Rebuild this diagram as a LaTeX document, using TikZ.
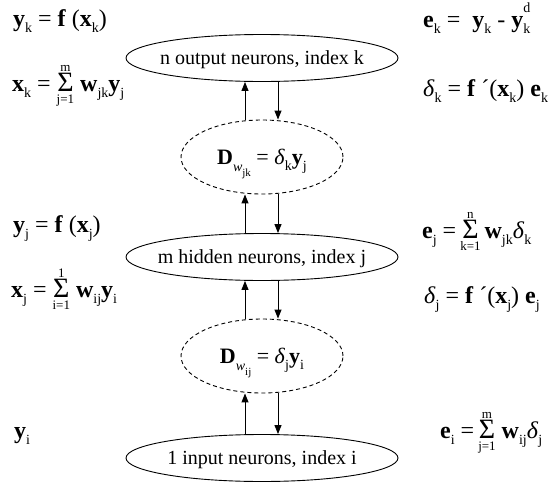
\documentclass[tikz,border=0pt]{standalone}
\usepackage{fontspec}
\setmainfont{Liberation Serif}
\usetikzlibrary{shapes.geometric,arrows.meta}
\newcommand\B[1]{\textbf{#1}}
\newcommand\sbs[1]{\raisebox{-.27em}{\fontsize{14}{14}\selectfont #1}}
\newcommand\sbsup[2]{\rlap{\raisebox{.6em}{\fontsize{14}{14}\selectfont #2}}\raisebox{-.27em}{\fontsize{14}{14}\selectfont #1}}
\newcommand\dl{\textit{δ}}
\newlength\smw
\newcommand\Sm[2]{\begingroup
  \setbox0=\hbox{\fontsize{28}{28}\selectfont Σ}%
  \setbox2=\hbox{\fontsize{13}{13}\selectfont #1}%
  \setbox4=\hbox{\fontsize{13}{13}\selectfont #2}%
  \setlength\smw{\wd0}%
  \ifdim\wd2>\smw \setlength\smw{\wd2}\fi
  \ifdim\wd4>\smw \setlength\smw{\wd4}\fi
  \makebox[\smw]{\makebox[0pt]{\raisebox{20pt}{\box2}}\makebox[0pt]{\box0}\makebox[0pt]{\raisebox{-12pt}{\box4}}}\endgroup}
\newcommand\Dw[1]{\B{D}\raisebox{-.35em}{\fontsize{14}{14}\selectfont\textit{w}\raisebox{-.3em}{\fontsize{11}{11}\selectfont #1}}}
\newcommand\lab[1]{\raisebox{-.33em}[0pt][0pt]{\makebox[0pt]{#1}}}
\begin{document}
\begin{tikzpicture}[x=1pt,y=-1pt,
  fm/.style={font=\fontsize{24}{28}\selectfont, inner sep=0pt, anchor=base west},
  ell/.style={ellipse, draw, line width=0.9pt, minimum width=272pt, minimum height=47pt, inner sep=0pt, font=\fontsize{20}{24}\selectfont},
  dell/.style={ellipse, draw, line width=0.9pt, dash pattern=on 4pt off 3pt, minimum width=162pt, minimum height=74pt, inner sep=0pt, font=\fontsize{22}{26}\selectfont},
  arr/.style={-{Triangle[length=9pt,width=7pt]}, line width=1pt}]
\useasboundingbox (0,0) rectangle (555,485);

% ellipses
\node[ell]  (out) at (262,58)  {\lab{n output neurons, index k}};
\node[dell] (d1)  at (262,157) {\lab{\Dw{jk} = \dl\sbs{k}\B{y}\sbs{j}}};
\node[ell]  (hid) at (262,257) {\lab{m hidden neurons, index j}};
\node[dell] (d2)  at (262,356) {\lab{\Dw{ij} = \dl\sbs{j}\B{y}\sbs{i}}};
\node[ell]  (inp) at (262,458) {\lab{1 input neurons, index i}};

% arrows
\draw[arr] ([xshift=-17pt]d1.north) -- ([xshift=-17pt]out.south);
\draw[arr] ([xshift=16pt]out.south) -- ([xshift=16pt]d1.north);
\draw[arr] ([xshift=-17pt]hid.north) -- ([xshift=-17pt]d1.south);
\draw[arr] ([xshift=16pt]d1.south) -- ([xshift=16pt]hid.north);
\draw[arr] ([xshift=-17pt]d2.north) -- ([xshift=-17pt]hid.south);
\draw[arr] ([xshift=16pt]hid.south) -- ([xshift=16pt]d2.north);
\draw[arr] ([xshift=-17pt]inp.north) -- ([xshift=-17pt]d2.south);
\draw[arr] ([xshift=16pt]d2.south) -- ([xshift=16pt]inp.north);

% left formulas
\node[fm] (yk) at (13,26)  {\B{y}\sbs{k} = \B{f} (\B{x}\sbs{k})};
\node[fm] (xk) at (12,91)  {\B{x}\sbs{k} = \Sm{m}{j=1} \B{w}\sbs{jk}\B{y}\sbs{j}};
\node[fm] (yj) at (13,232) {\B{y}\sbs{j} = \B{f} (\B{x}\sbs{j})};
\node[fm] (xj) at (11,297) {\B{x}\sbs{j} = \Sm{1}{i=1} \B{w}\sbs{ij}\B{y}\sbs{i}};
\node[fm] (yi) at (14,438) {\B{y}\sbs{i}};

% right formulas
\node[fm] (ek) at (423,27)  {\B{e}\sbs{k} = \ \B{y}\sbs{k} - \B{y}\sbsup{k}{d}};
\node[fm] (dk) at (423,96)  {\dl\sbs{k} = \B{f} ´(\B{x}\sbs{k}) \B{e}\sbs{k}};
\node[fm] (ej) at (422,238) {\B{e}\sbs{j} =\,\Sm{n}{k=1}\,\B{w}\sbs{jk}\dl\sbs{k}};
\node[fm] (dj) at (424,303) {\dl\sbs{j} = \B{f} ´(\B{x}\sbs{j}) \B{e}\sbs{j}};
\node[fm] (ei) at (440,438) {\B{e}\sbs{i} =\,\Sm{m}{j=1} \B{w}\sbs{ij}\dl\sbs{j}};
\end{tikzpicture}
\end{document}
